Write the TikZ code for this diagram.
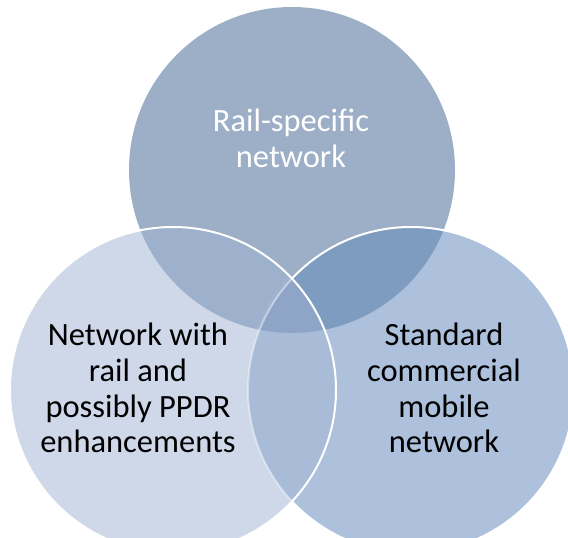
\documentclass[tikz,border=0pt]{standalone}
\usepackage{fontspec}
\setmainfont{Carlito}
\definecolor{cT}{HTML}{9CAFC6}
\definecolor{cL}{HTML}{CED8E8}
\definecolor{cR}{HTML}{ADC1DC}
\definecolor{cTL}{HTML}{9DB1CD}
\definecolor{cTR}{HTML}{7E9BC0}
\definecolor{cLR}{HTML}{A8BBD7}
\definecolor{cTLR}{HTML}{8FA5C8}
\begin{document}
\begin{tikzpicture}[x=1pt,y=-1pt,
  lbl/.style={font=\fontsize{32.5}{35.7}\selectfont, align=center, inner sep=0pt},
  edge/.style={draw=white, line width=2pt}]
\useasboundingbox (0,0) rectangle (568,538);
\clip (0,0) rectangle (568,538);
\def\rr{163}
\coordinate (T) at (292,170);
\coordinate (L) at (173,390);
\coordinate (R) at (411,390);
% base fills
\fill[cT] (T) circle (\rr);
\fill[cR] (R) circle (\rr);
\fill[cL] (L) circle (\rr);
% pairwise overlaps
\begin{scope}\clip (T) circle (\rr); \fill[cTR] (R) circle (\rr); \end{scope}
\begin{scope}\clip (T) circle (\rr); \fill[cTL] (L) circle (\rr); \end{scope}
\begin{scope}\clip (L) circle (\rr); \fill[cLR] (R) circle (\rr); \end{scope}
\begin{scope}\clip (T) circle (\rr); \clip (L) circle (\rr); \fill[cTLR] (R) circle (\rr); \end{scope}
% right circle edge (full white outside the left circle)
\draw[edge] (R) circle (\rr);
% inside the left circle the right edge is faint
\begin{scope}
  \clip (L) circle (\rr);
  \begin{scope}[even odd rule]\clip (R) circle (\rr+3) (R) circle (\rr-3); \fill[cL] (L) circle (\rr); \begin{scope}\clip (T) circle (\rr); \fill[cTL] (L) circle (\rr);\end{scope}\end{scope}
  \fill[cLR] (R) circle (\rr);
  \begin{scope}\clip (T) circle (\rr); \fill[cTLR] (R) circle (\rr); \end{scope}
  \draw[white, opacity=0.45, line width=2pt] (R) circle (\rr);
\end{scope}
% left circle edge
\draw[edge] (L) circle (\rr);
% labels
\node[lbl, text=white] (tT) at (291,138) {Rail-specific\\network};
\node[lbl, text=black] (tL) at (138,388) {Network with\\rail and\\possibly PPDR\\enhancements};
\node[lbl, text=black] (tR) at (444,388) {Standard\\commercial\\mobile\\network};
\end{tikzpicture}
\end{document}
